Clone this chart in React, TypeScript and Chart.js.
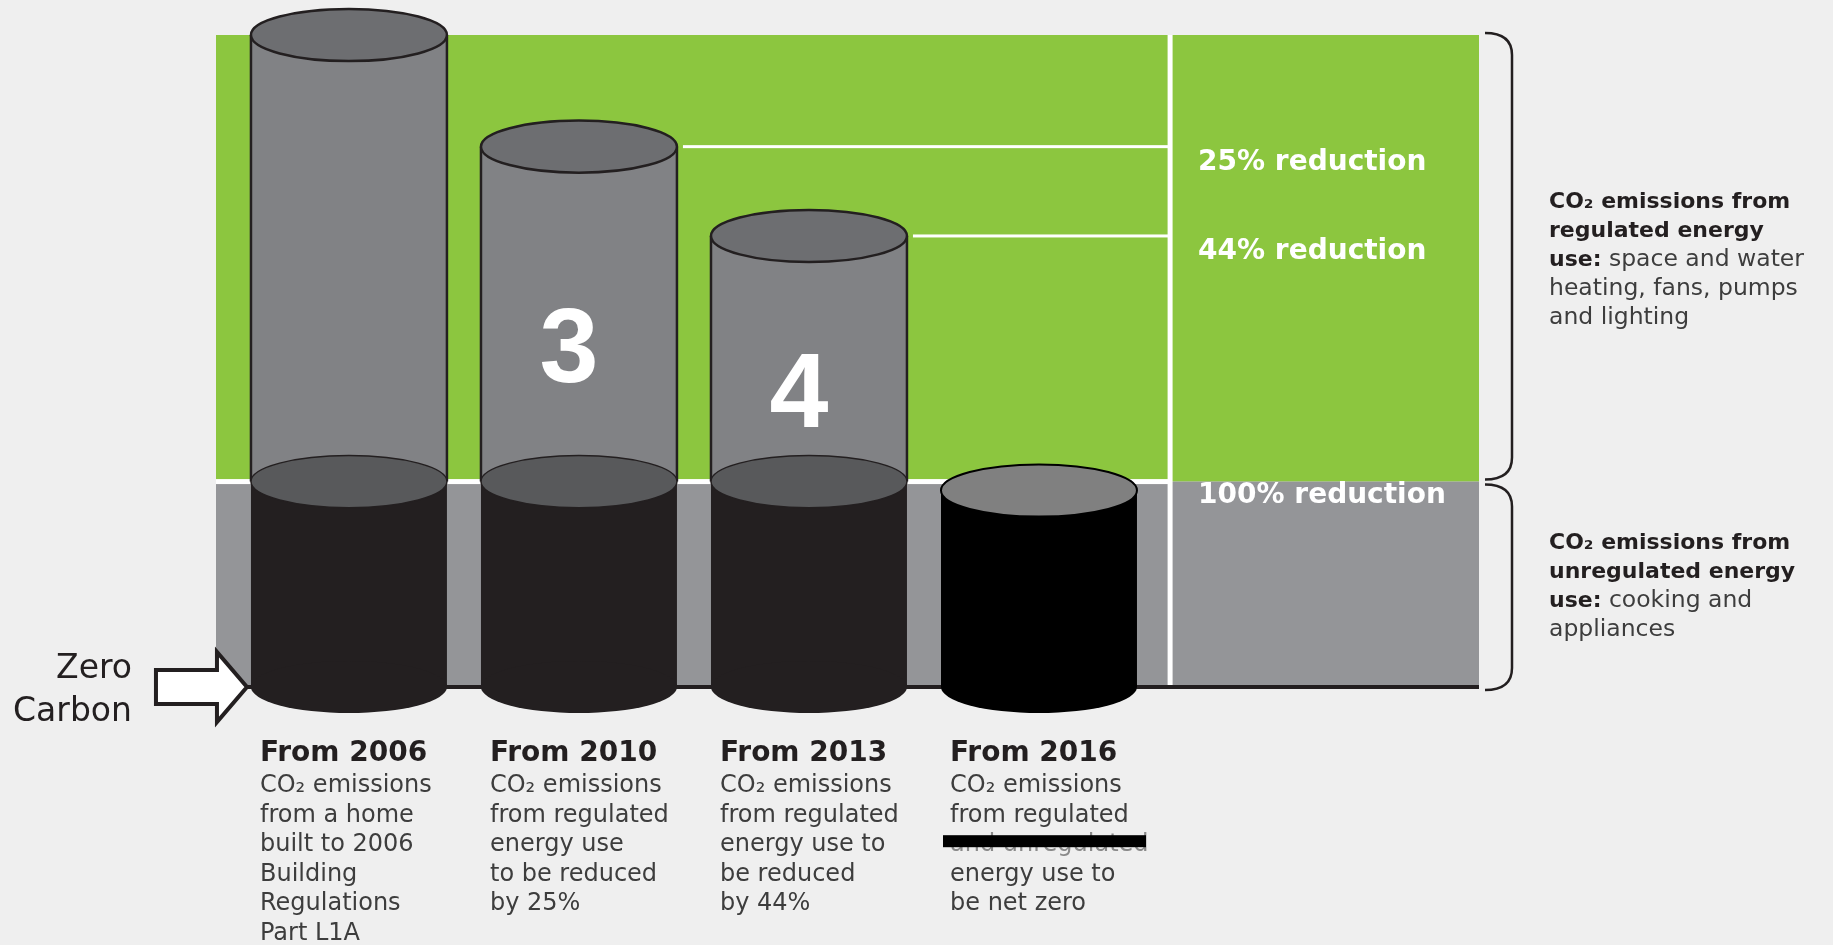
import React, { useEffect, useRef } from 'react';
import { Chart, registerables } from 'chart.js';

Chart.register(...registerables);

// ---------- data ----------
const categories = ['From 2006', 'From 2010', 'From 2013', 'From 2016'];
const unregulatedEmissions = [46, 46, 46, 44];
const regulatedEmissions = [100, 75, 55, 0];
const descriptions = [
  ['CO₂ emissions', 'from a home', 'built to 2006', 'Building', 'Regulations', 'Part L1A'],
  ['CO₂ emissions', 'from regulated', 'energy use', 'to be reduced', 'by 25%'],
  ['CO₂ emissions', 'from regulated', 'energy use to', 'be reduced', 'by 44%'],
  ['CO₂ emissions', 'from regulated', 'and unregulated', 'energy use to', 'be net zero'],
];
const struckLine = [-1, -1, -1, 2];
const reductionLabels = ['', '25% reduction', '44% reduction', '100% reduction'];
const cylinderNumbers = ['', '3', '4', ''];
const regulatedNote = [
  [['CO₂ emissions from', true]],
  [['regulated energy', true]],
  [['use:', true], [' space and water', false]],
  [['heating, fans, pumps', false]],
  [['and lighting', false]],
];
const unregulatedNote = [
  [['CO₂ emissions from', true]],
  [['unregulated energy', true]],
  [['use:', true], [' cooking and', false]],
  [['appliances', false]],
];
const zeroLabel = ['Zero', 'Carbon'];

// ---------- styling ----------
const FONT = '"DejaVu Sans", "Noto Sans", sans-serif';
const GREEN = '#8cc63f';
const BAND_GRAY = '#949598';
const DARK = '#231f20';
const BODY_GRAY = '#818285';
const TOP_GRAY = '#6d6e71';
const MID_GRAY = '#58595b';
const DIVIDER_X = 3.57;
const unregColors = ['#231f20', '#231f20', '#231f20', '#000000'];

function ellipse(ctx: CanvasRenderingContext2D, cx: number, cy: number, rx: number, ry: number, fill: string, stroke?: string, lw = 2) {
  ctx.beginPath();
  ctx.ellipse(cx, cy, rx, ry, 0, 0, Math.PI * 2);
  ctx.fillStyle = fill;
  ctx.fill();
  if (stroke) {
    ctx.strokeStyle = stroke;
    ctx.lineWidth = lw;
    ctx.stroke();
  }
}

const zeroCarbonPlugin = {
  id: 'zeroCarbon',
  beforeDatasetsDraw(chart: any) {
    const { ctx, chartArea: ca, scales } = chart;
    const x = scales.x, y = scales.y;
    const yBase = y.getPixelForValue(0);
    const yMid = y.getPixelForValue(unregulatedEmissions[0]);
    const yTop = ca.top;
    const xDiv = x.getPixelForValue(DIVIDER_X);
    ctx.save();
    ctx.fillStyle = GREEN;
    ctx.fillRect(ca.left, yTop, ca.right - ca.left, yMid - yTop);
    ctx.fillStyle = BAND_GRAY;
    ctx.fillRect(ca.left, yMid, ca.right - ca.left, yBase - yMid);
    ctx.fillStyle = '#ffffff';
    ctx.fillRect(xDiv - 2.5, yTop, 5, yBase - yTop);
    ctx.fillRect(ca.left, yMid - 2.5, xDiv - ca.left, 5);
    const m1 = chart.getDatasetMeta(1);
    for (let i = 1; i < categories.length; i++) {
      if (regulatedEmissions[i] <= 0) continue;
      const b: any = m1.data[i];
      const x0 = b.x + b.width / 2 + 6;
      ctx.fillRect(x0, b.y - 1.5, xDiv - x0, 3);
    }
    ctx.fillStyle = DARK;
    ctx.fillRect(ca.left, yBase - 2, ca.right - ca.left, 4);
    ctx.restore();
  },
  afterDatasetsDraw(chart: any) {
    const { ctx, chartArea: ca, scales } = chart;
    const x = scales.x, y = scales.y;
    const yBase = y.getPixelForValue(0);
    const yMid = y.getPixelForValue(unregulatedEmissions[0]);
    const xDiv = x.getPixelForValue(DIVIDER_X);
    const m0 = chart.getDatasetMeta(0);
    const m1 = chart.getDatasetMeta(1);
    ctx.save();
    categories.forEach((cat, i) => {
      const b0: any = m0.data[i];
      const b1: any = m1.data[i];
      const cx = b0.x;
      const rx = b0.width / 2;
      const ry = b0.width * 0.133;
      const base = b0.base;
      const mid = b0.y;
      ellipse(ctx, cx, base, rx, ry, unregColors[i]);
      if (regulatedEmissions[i] > 0) {
        const top = b1.y;
        ctx.strokeStyle = DARK;
        ctx.lineWidth = 2.5;
        ctx.beginPath();
        ctx.moveTo(cx - rx, top);
        ctx.lineTo(cx - rx, mid);
        ctx.moveTo(cx + rx, top);
        ctx.lineTo(cx + rx, mid);
        ctx.stroke();
        ellipse(ctx, cx, mid, rx, ry, MID_GRAY, DARK, 1.5);
        ellipse(ctx, cx, top, rx, ry, TOP_GRAY, DARK, 2.5);
        if (cylinderNumbers[i]) {
          ctx.fillStyle = '#ffffff';
          ctx.font = 'bold 106px "Liberation Sans", Arial, sans-serif';
          ctx.textAlign = 'center';
          ctx.textBaseline = 'alphabetic';
          ctx.fillText(cylinderNumbers[i], cx - 10, (top + mid) / 2 + 68);
        }
      } else {
        ellipse(ctx, cx, mid, rx, ry, '#808080', '#000000', 2);
      }
      if (reductionLabels[i]) {
        ctx.fillStyle = '#ffffff';
        ctx.font = `bold 28px ${FONT}`;
        ctx.textAlign = 'left';
        ctx.textBaseline = 'alphabetic';
        const ly = regulatedEmissions[i] > 0 ? b1.y + 23 : yMid + 21;
        ctx.fillText(reductionLabels[i], xDiv + 28, ly);
      }
      const colX = cx - rx + 9;
      ctx.textAlign = 'left';
      ctx.textBaseline = 'alphabetic';
      ctx.fillStyle = DARK;
      ctx.font = `bold 28px ${FONT}`;
      ctx.fillText(cat, colX, yBase + 74);
      ctx.font = `24px ${FONT}`;
      descriptions[i].forEach((line, k) => {
        const ty = yBase + 105 + k * 29.6;
        if (k === struckLine[i]) {
          ctx.fillStyle = '#8a8a8a';
          ctx.fillText(line, colX, ty);
          ctx.fillStyle = '#000000';
          ctx.fillRect(colX - 7, ty - 16, 203, 12);
        } else {
          ctx.fillStyle = '#3d3d3d';
          ctx.fillText(line, colX, ty);
        }
      });
    });

    // arrow
    const b00: any = m0.data[0];
    const tx = b00.x - b00.width / 2 - 4;
    const ty = yBase;
    ctx.beginPath();
    ctx.moveTo(tx - 91, ty - 17);
    ctx.lineTo(tx - 30, ty - 17);
    ctx.lineTo(tx - 30, ty - 35);
    ctx.lineTo(tx, ty);
    ctx.lineTo(tx - 30, ty + 35);
    ctx.lineTo(tx - 30, ty + 17);
    ctx.lineTo(tx - 91, ty + 17);
    ctx.closePath();
    ctx.fillStyle = '#ffffff';
    ctx.fill();
    ctx.strokeStyle = DARK;
    ctx.lineWidth = 4;
    ctx.lineJoin = 'miter';
    ctx.stroke();
    ctx.fillStyle = DARK;
    ctx.font = `33px ${FONT}`;
    ctx.textAlign = 'right';
    ctx.fillText(zeroLabel[0], tx - 115, ty - 9);
    ctx.fillText(zeroLabel[1], tx - 115, ty + 34);

    // braces
    const bx0 = ca.right + 6;
    const bx1 = ca.right + 33;
    const brace = (t: number, b: number) => {
      ctx.beginPath();
      ctx.moveTo(bx0, t);
      ctx.quadraticCurveTo(bx1, t, bx1, t + 22);
      ctx.lineTo(bx1, b - 22);
      ctx.quadraticCurveTo(bx1, b, bx0, b);
      ctx.strokeStyle = DARK;
      ctx.lineWidth = 2.5;
      ctx.stroke();
    };
    brace(ca.top - 2, yMid - 2);
    brace(yMid + 3, yBase + 3);

    const note = (lines: any[], center: number) => {
      const n = lines.length;
      ctx.textAlign = 'left';
      lines.forEach((segs: any[], k: number) => {
        const by = center - ((n - 1) * 29) / 2 + k * 29 + 8;
        let nx = ca.right + 70;
        segs.forEach(([txt, bold]: [string, boolean]) => {
          ctx.font = bold ? `bold 22px ${FONT}` : `23.5px ${FONT}`;
          ctx.fillStyle = bold ? DARK : '#3d3d3d';
          ctx.fillText(txt, nx, by);
          nx += ctx.measureText(txt).width;
        });
      });
    };
    note(regulatedNote, (ca.top + yMid) / 2);
    note(unregulatedNote, (yMid + yBase) / 2);
    ctx.restore();
  },
};

export default function App() {
  const ref = useRef<HTMLCanvasElement | null>(null);
  useEffect(() => {
    if (!ref.current) return;
    const chart = new Chart(ref.current, {
      type: 'bar',
      data: {
        datasets: [
          {
            label: 'Unregulated energy use',
            data: categories.map((_, i) => ({ x: i, y: unregulatedEmissions[i] })),
            backgroundColor: unregColors,
            borderWidth: 0,
          },
          {
            label: 'Regulated energy use',
            data: categories.map((_, i) => ({ x: i, y: regulatedEmissions[i] })),
            backgroundColor: BODY_GRAY,
            borderWidth: 0,
          },
        ],
      } as any,
      options: {
        responsive: false,
        maintainAspectRatio: false,
        animation: false,
        events: [],
        layout: { padding: { left: 216, right: 354, top: 35, bottom: 258 } },
        datasets: { bar: { categoryPercentage: 1, barPercentage: 0.852 } } as any,
        plugins: { legend: { display: false }, tooltip: { enabled: false } },
        scales: {
          x: {
            type: 'linear',
            display: false,
            min: -0.578,
            max: 4.913,
            stacked: true,
            offset: false,
            afterBuildTicks: (s: any) => {
              s.ticks = categories.map((_, i) => ({ value: i }));
            },
          } as any,
          y: { display: false, min: 0, max: 146, stacked: true },
        },
      },
      plugins: [zeroCarbonPlugin],
    });
    return () => chart.destroy();
  }, []);
  return (
    <div style={{ position: 'fixed', left: 0, top: 0, width: 1833, height: 945, background: '#efefef' }}>
      <canvas ref={ref} width={1833} height={945} style={{ display: 'block', width: 1833, height: 945 }} />
    </div>
  );
}
